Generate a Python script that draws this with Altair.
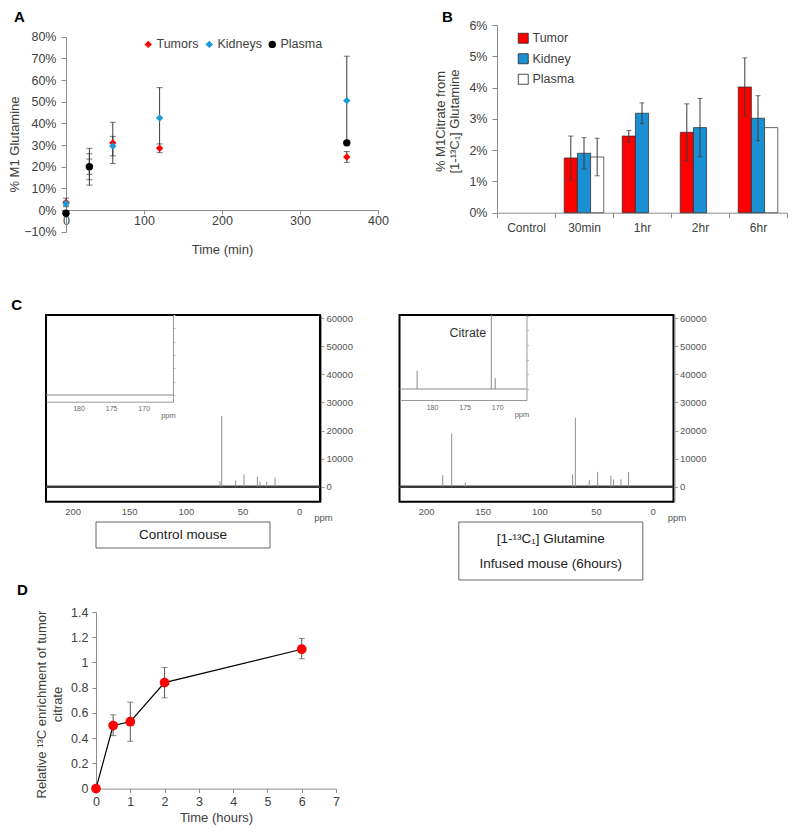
import altair as alt
import pandas as pd

FONT = "Liberation Sans"
TXT = "#404040"
AX = "#8c8c8c"
ERR = "#3a3a3a"
LBL = 12.5
TTL = 13

# ---------------- Panel A data ----------------
a_series = ["Tumors", "Kidneys", "Plasma"]
a_colors = ["#ff0000", "#1b98d6", "#000000"]
a_shapes = ["diamond", "diamond", "circle"]
a_sizes = [55, 55, 85]
a_time = [0, 30, 60, 120, 360]
a_tumor = [0.035, 0.20, 0.31, 0.285, 0.245]
a_tumor_err = [0.02, 0.06, 0.095, 0.02, 0.025]
a_kidney = [0.03, 0.20, 0.295, 0.425, 0.505]
a_kidney_err = [0.01, 0.035, 0.045, 0.14, 0.205]
a_plasma_time = [0, 30, 360]
a_plasma = [-0.015, 0.20, 0.31]
a_plasma_err = [0.0, 0.085, 0.0]
a_xticks = [0, 100, 200, 300, 400]
a_yticks = [-0.1, 0.0, 0.1, 0.2, 0.3, 0.4, 0.5, 0.6, 0.7, 0.8]

# ---------------- Panel B data ----------------
b_cats = ["Control", "30min", "1hr", "2hr", "6hr"]
b_series = ["Tumor", "Kidney", "Plasma"]
b_colors = ["#ff0000", "#1a8fd2", "#ffffff"]
b_tumor = [None, 0.0175, 0.0245, 0.0257, 0.0402]
b_tumor_err = [None, 0.0070, 0.0018, 0.0091, 0.0093]
b_kidney = [None, 0.0190, 0.0318, 0.0272, 0.0302]
b_kidney_err = [None, 0.0050, 0.0033, 0.0093, 0.0072]
b_plasma = [None, 0.0178, None, None, 0.0272]
b_plasma_err = [None, 0.0060, None, None, 0.0]
b_yticks = [0.0, 0.01, 0.02, 0.03, 0.04, 0.05, 0.06]

# ---------------- Panel C data ----------------
c_ppm_domain = [-18.5, 223.5]
c_yticks = [0, 10000, 20000, 30000, 40000, 50000, 60000]
c_xticks = [0, 50, 100, 150, 200]
c_inset_ticks = [170, 175, 180]
c_inset_domain = [165.5, 185.0]
# control mouse spectrum peaks (ppm, intensity)
c1_ppm = [69.8, 68.3, 56.0, 48.6, 36.8, 34.5, 28.6, 21.2]
c1_h = [2000, 25200, 2100, 4400, 3600, 1800, 1800, 3200]
c1_inset_ppm = []
c1_inset_h = []
# infused mouse spectrum peaks
c2_ppm = [185.3, 177.4, 165.3, 70.6, 68.2, 55.9, 48.5, 36.8, 34.4, 27.9, 21.2]
c2_h = [4100, 19000, 1500, 4400, 24600, 2300, 5300, 4000, 2600, 2600, 5200]
c2_inset_ppm = [182.3, 170.9, 170.3]
c2_inset_h = [2.5, 10.1, 1.5]

# ---------------- Panel D data ----------------
d_time = [0, 0.5, 1, 2, 6]
d_val = [0.0, 0.50, 0.53, 0.84, 1.105]
d_lo = [0.0, 0.42, 0.375, 0.72, 1.03]
d_hi = [0.0, 0.585, 0.685, 0.96, 1.19]
d_xticks = [0, 1, 2, 3, 4, 5, 6, 7]
d_yticks = [0.0, 0.2, 0.4, 0.6, 0.8, 1.0, 1.2, 1.4]


def letter(t, dx=0, offset=4):
    return alt.TitleParams(t, anchor="start", frame="bounds", fontSize=15, fontWeight="bold",
                           font=FONT, color="black", dx=dx, offset=offset)


# =============== Panel A ===============
A_W, A_H, A_TOP, A_LEFT = 332, 206.7, 11.7, 20
A_ZERO = A_H - (A_H - A_TOP) / 9.0
rows = []
for s, times, vals, errs in [("Tumors", a_time, a_tumor, a_tumor_err),
                             ("Kidneys", a_time, a_kidney, a_kidney_err),
                             ("Plasma", a_plasma_time, a_plasma, a_plasma_err)]:
    for t, v, e in zip(times, vals, errs):
        rows.append(dict(series=s, time=t, value=v, lo=v - e, hi=v + e, err=e))
df_a = pd.DataFrame(rows)
df_a_err = df_a[df_a.err > 0]

ax_s = alt.Scale(domain=[0, 400], range=[A_LEFT, A_W], nice=False, zero=False)
ay_s = alt.Scale(domain=[-0.1, 0.8], range=[A_H, A_TOP], nice=False, zero=False)
ax_axis = alt.Axis(values=a_xticks, offset=-(A_H - A_ZERO), title="Time (min)",
                   titleX=176, titleY=39, titleBaseline="middle", titleAlign="center",
                   tickSize=4, labelPadding=0, labelFontSize=LBL, titleFontSize=TTL,
                   labelFlush=False)
ay_axis = alt.Axis(values=a_yticks, format=".0%", offset=-A_LEFT, title="% M1 Glutamine",
                   titleX=-52, titleY=119, titleAngle=-90, titleBaseline="middle",
                   titleAlign="center", tickSize=5, labelPadding=5, labelFontSize=LBL,
                   titleFontSize=TTL)

a_base = alt.Chart(df_a_err)
a_rule = a_base.mark_rule(color=ERR, strokeWidth=1).encode(
    x=alt.X("time:Q", scale=ax_s, axis=ax_axis),
    y=alt.Y("lo:Q", scale=ay_s, axis=ay_axis), y2="hi:Q")
a_cap_lo = a_base.mark_tick(orient="horizontal", size=6, thickness=1, color=ERR).encode(
    x=alt.X("time:Q", scale=ax_s, axis=ax_axis), y=alt.Y("lo:Q", scale=ay_s, axis=ay_axis))
a_cap_hi = a_base.mark_tick(orient="horizontal", size=6, thickness=1, color=ERR).encode(
    x=alt.X("time:Q", scale=ax_s, axis=ax_axis), y=alt.Y("hi:Q", scale=ay_s, axis=ay_axis))
a_leg = alt.Legend(orient="none", legendX=96, legendY=13, direction="horizontal", title=None,
                   labelFontSize=LBL, labelColor=TXT, labelFont=FONT, symbolSize=60,
                   columnPadding=4, labelOffset=2, symbolStrokeWidth=0)
a_pts = alt.Chart(df_a).mark_point(filled=True, opacity=1).encode(
    x=alt.X("time:Q", scale=ax_s, axis=ax_axis),
    y=alt.Y("value:Q", scale=ay_s, axis=ay_axis),
    color=alt.Color("series:N", scale=alt.Scale(domain=a_series, range=a_colors), legend=a_leg),
    shape=alt.Shape("series:N", scale=alt.Scale(domain=a_series, range=a_shapes), legend=a_leg),
    size=alt.Size("series:N", scale=alt.Scale(domain=a_series, range=a_sizes), legend=None))
chart_a = alt.layer(a_rule, a_cap_lo, a_cap_hi, a_pts).properties(
    width=A_W, height=A_H, title=letter("A", dx=6, offset=0))

# =============== Panel B ===============
B_W, B_H = 290, 187.7
rows = []
for s, vals, errs in [("Tumor", b_tumor, b_tumor_err), ("Kidney", b_kidney, b_kidney_err),
                      ("Plasma", b_plasma, b_plasma_err)]:
    for c, v, e in zip(b_cats, vals, errs):
        if v is not None:
            rows.append(dict(cat=c, series=s, value=v, lo=v - e, hi=v + e, err=e))
df_b = pd.DataFrame(rows)
df_b_err = df_b[df_b.err > 0]

bx = alt.X("cat:N", scale=alt.Scale(domain=b_cats, paddingInner=0, paddingOuter=0),
           axis=alt.Axis(title=None, tickBand="extent", labelAngle=0, tickSize=5, labelPadding=5,
                         labelFontSize=12))
bxo = alt.XOffset("series:N", scale=alt.Scale(domain=b_series, paddingInner=0, paddingOuter=0.7))
by_s = alt.Scale(domain=[0, 0.06], nice=False, zero=False)
by_axis = alt.Axis(values=b_yticks, format=".0%", tickSize=5, labelPadding=5,
                   title=["% M1Citrate from", "[1-\u00b9\u00b3C\u2081] Glutamine"],
                   titleX=-57, titleY=96, titleAngle=-90, titleBaseline="middle",
                   titleAlign="center", labelFontSize=LBL, titleFontSize=TTL,
                   titleLineHeight=14)
b_leg = alt.Legend(orient="none", legendX=20, legendY=7, direction="vertical", title=None,
                   symbolType="square", symbolStrokeColor="#222", symbolStrokeWidth=0.8,
                   symbolSize=100, labelFontSize=LBL, labelColor=TXT, labelFont=FONT,
                   rowPadding=6.5, labelOffset=3)
b_bars = alt.Chart(df_b).mark_bar(stroke="#2a2a2a", strokeWidth=0.7).encode(
    x=bx, xOffset=bxo, y=alt.Y("value:Q", scale=by_s, axis=by_axis),
    color=alt.Color("series:N", scale=alt.Scale(domain=b_series, range=b_colors), legend=b_leg))
b_err = alt.Chart(df_b_err)
b_rule = b_err.mark_rule(color=ERR, strokeWidth=1).encode(
    x=bx, xOffset=bxo, y=alt.Y("lo:Q", scale=by_s, axis=by_axis), y2="hi:Q")
b_cap_lo = b_err.mark_tick(orient="horizontal", size=5, thickness=1, color=ERR).encode(
    x=bx, xOffset=bxo, y=alt.Y("lo:Q", scale=by_s, axis=by_axis))
b_cap_hi = b_err.mark_tick(orient="horizontal", size=5, thickness=1, color=ERR).encode(
    x=bx, xOffset=bxo, y=alt.Y("hi:Q", scale=by_s, axis=by_axis))
chart_b = alt.layer(b_bars, b_rule, b_cap_lo, b_cap_hi).properties(
    width=B_W, height=B_H, title=letter("B", dx=8, offset=-6))

# =============== Panel C ===============
C_W, C_H = 274, 186.7
INS_W = 127


def nmr(pk_ppm, pk_h, ins_ppm, ins_h, ins_ydom, ins_axis_px, box_xr, box_yr, box_lines,
        box_ty, title=None, citrate=None):
    mx = alt.Scale(domain=c_ppm_domain, reverse=True, nice=False, zero=False)
    my = alt.Scale(domain=[-5350, 61180], nice=False, zero=False)
    mx_axis = alt.Axis(orient="bottom", values=c_xticks, domain=False, ticks=False,
                       labelPadding=5, labelFontSize=9.5, labelColor="#555", title="ppm",
                       titleFontSize=9.5, titleColor="#555", titleX=C_W + 3, titleY=16,
                       titleAlign="center", titleBaseline="middle", grid=False,
                       labelFlush=False)
    my_axis = alt.Axis(orient="right", values=c_yticks, format="d", offset=1, tickSize=3,
                       labelPadding=2, labelFontSize=9.5, labelColor="#555", title=None,
                       domainColor="#999", tickColor="#999", grid=False)
    base_df = pd.DataFrame({"ppm": c_ppm_domain, "y": [0, 0]})
    layers = []
    layers.append(alt.Chart(base_df).mark_line(color="#3a3a3a", strokeWidth=2.4).encode(
        x=alt.X("ppm:Q", scale=mx, axis=mx_axis), y=alt.Y("y:Q", scale=my, axis=my_axis)))
    pk_df = pd.DataFrame({"ppm": pk_ppm, "h": pk_h, "b": [0] * len(pk_ppm)})
    layers.append(alt.Chart(pk_df).mark_rule(color="#8f8f8f", strokeWidth=1).encode(
        x=alt.X("ppm:Q", scale=mx, axis=None), y=alt.Y("b:Q", scale=my, axis=None), y2="h:Q"))

    isx = alt.Scale(domain=c_inset_domain, reverse=True, range=[0, INS_W], nice=False, zero=False)
    isy = alt.Scale(domain=ins_ydom, range=[ins_axis_px, 0], nice=False, zero=False)
    isx_axis = alt.Axis(orient="bottom", values=c_inset_ticks, offset=-(C_H - ins_axis_px),
                        domainColor="#999", ticks=False, labelPadding=3, labelFontSize=7,
                        labelColor="#666", title="ppm", titleFontSize=7.5, titleColor="#666",
                        titleX=INS_W - 5, titleY=14, titleAlign="center",
                        titleBaseline="middle", grid=False, labelFlush=False)
    isy_axis = alt.Axis(orient="right", offset=-(C_W - INS_W), labels=False, tickSize=2,
                        tickCount=6, domainColor="#999", tickColor="#bbb", title=None, grid=False)
    ins_base = pd.DataFrame({"ppm": c_inset_domain, "y": [0, 0]})
    layers.append(alt.Chart(ins_base).mark_line(color="#8a8a8a", strokeWidth=1).encode(
        x=alt.X("ppm:Q", scale=isx, axis=isx_axis), y=alt.Y("y:Q", scale=isy, axis=isy_axis)))
    if ins_ppm:
        ip_df = pd.DataFrame({"ppm": ins_ppm, "h": ins_h, "b": [0] * len(ins_ppm)})
        layers.append(alt.Chart(ip_df).mark_rule(color="#8a8a8a", strokeWidth=1).encode(
            x=alt.X("ppm:Q", scale=isx, axis=None), y=alt.Y("b:Q", scale=isy, axis=None),
            y2="h:Q"))
    if citrate:
        ct_df = pd.DataFrame({"ppm": [citrate[0]], "y": [citrate[1]], "t": [citrate[2]]})
        layers.append(alt.Chart(ct_df).mark_text(fontSize=12.5, font=FONT, color="#333").encode(
            x=alt.X("ppm:Q", scale=isx, axis=None), y=alt.Y("y:Q", scale=isy, axis=None),
            text="t:N"))

    bsx = alt.Scale(domain=[0, 1], range=box_xr, nice=False, zero=False)
    bsy = alt.Scale(domain=[0, 1], range=box_yr, nice=False, zero=False)
    box_df = pd.DataFrame({"x0": [0], "x1": [1], "y0": [0], "y1": [1]})
    layers.append(alt.Chart(box_df).mark_rect(fill="white", stroke="#666", strokeWidth=1).encode(
        x=alt.X("x0:Q", scale=bsx, axis=None), x2="x1:Q",
        y=alt.Y("y0:Q", scale=bsy, axis=None), y2="y1:Q"))
    txt_df = pd.DataFrame({"t": box_lines, "x": [0.5] * len(box_lines), "y": box_ty})
    layers.append(alt.Chart(txt_df).mark_text(fontSize=13.5, font=FONT, color="#222").encode(
        x=alt.X("x:Q", scale=bsx, axis=None), y=alt.Y("y:Q", scale=bsy, axis=None), text="t:N"))

    props = dict(width=C_W, height=C_H, view=alt.ViewBackground(stroke="black", strokeWidth=2))
    if title:
        props["title"] = title
    return alt.layer(*layers).resolve_scale(x="independent", y="independent").properties(**props)


chart_c1 = nmr(c1_ppm, c1_h, c1_inset_ppm, c1_inset_h, [-1.0, 12.0], 86.7,
               [50, 224], [233, 207], ["Control mouse"], [0.5],
               title=letter("C", dx=-30, offset=0))
chart_c2 = nmr(c2_ppm, c2_h, c2_inset_ppm, c2_inset_h, [-1.5, 10.1], 85.0,
               [59.3, 243.3], [265, 207],
               ["[1-\u00b9\u00b3C\u2081] Glutamine", "Infused mouse (6hours)"], [0.707, 0.276],
               citrate=(174.5, 7.6, "Citrate"))

# =============== Panel D ===============
D_W, D_H, D_LEFT = 290, 176.6, 50
df_d = pd.DataFrame({"t": d_time, "v": d_val, "lo": d_lo, "hi": d_hi})
df_d_err = df_d[df_d.hi > df_d.lo]
dx_s = alt.Scale(domain=[0, 7], range=[D_LEFT, D_W], nice=False, zero=False)
dy_s = alt.Scale(domain=[0, 1.4], range=[D_H, 0], nice=False, zero=False)
dx_axis = alt.Axis(values=d_xticks, tickSize=4, labelPadding=3, title="Time (hours)",
                   titleX=170, titleY=29, titleBaseline="middle", titleAlign="center",
                   labelFontSize=LBL, titleFontSize=TTL, labelFlush=False)
dy_axis = alt.Axis(values=d_yticks, format=".1~f", offset=-D_LEFT, tickSize=4, labelPadding=4,
                   title=["Relative \u00b9\u00b3C enrichment of tumor", "citrate"],
                   titleX=-55, titleY=92, titleAngle=-90, titleBaseline="middle",
                   titleAlign="center", labelFontSize=LBL, titleFontSize=TTL,
                   titleLineHeight=16)
d_line = alt.Chart(df_d).mark_line(color="black", strokeWidth=1.2).encode(
    x=alt.X("t:Q", scale=dx_s, axis=dx_axis), y=alt.Y("v:Q", scale=dy_s, axis=dy_axis))
d_rule = alt.Chart(df_d_err).mark_rule(color="#555", strokeWidth=1).encode(
    x=alt.X("t:Q", scale=dx_s, axis=dx_axis), y=alt.Y("lo:Q", scale=dy_s, axis=dy_axis), y2="hi:Q")
d_cap_lo = alt.Chart(df_d_err).mark_tick(orient="horizontal", size=6, thickness=1, color="#555").encode(
    x=alt.X("t:Q", scale=dx_s, axis=dx_axis), y=alt.Y("lo:Q", scale=dy_s, axis=dy_axis))
d_cap_hi = alt.Chart(df_d_err).mark_tick(orient="horizontal", size=6, thickness=1, color="#555").encode(
    x=alt.X("t:Q", scale=dx_s, axis=dx_axis), y=alt.Y("hi:Q", scale=dy_s, axis=dy_axis))
d_pts = alt.Chart(df_d).mark_circle(color="#ff0000", size=95, opacity=1).encode(
    x=alt.X("t:Q", scale=dx_s, axis=dx_axis), y=alt.Y("v:Q", scale=dy_s, axis=dy_axis))
chart_d = alt.layer(d_rule, d_cap_lo, d_cap_hi, d_line, d_pts).properties(
    width=D_W, height=D_H, title=letter("D", dx=-18, offset=8))

# =============== Layout ===============
indep = dict(color="independent", shape="independent", size="independent")
row1 = alt.hconcat(chart_a, chart_b, spacing=45).resolve_scale(**indep)
row2 = alt.hconcat(chart_c1, chart_c2, spacing=39.5)
top = alt.vconcat(row1, row2, spacing=40).resolve_scale(**indep)
chart = alt.vconcat(top, chart_d, spacing=1).resolve_scale(**indep).properties(
    padding={"left": 0, "top": 2, "right": 0, "bottom": 0}
).configure_view(stroke=None).configure_axis(
    labelFont=FONT, titleFont=FONT, labelColor=TXT, titleColor=TXT, titleFontWeight="normal",
    grid=False, domainColor=AX, tickColor=AX
).configure_title(font=FONT)

chart.save("out.html", embed_options={"renderer": "svg", "actions": False})
